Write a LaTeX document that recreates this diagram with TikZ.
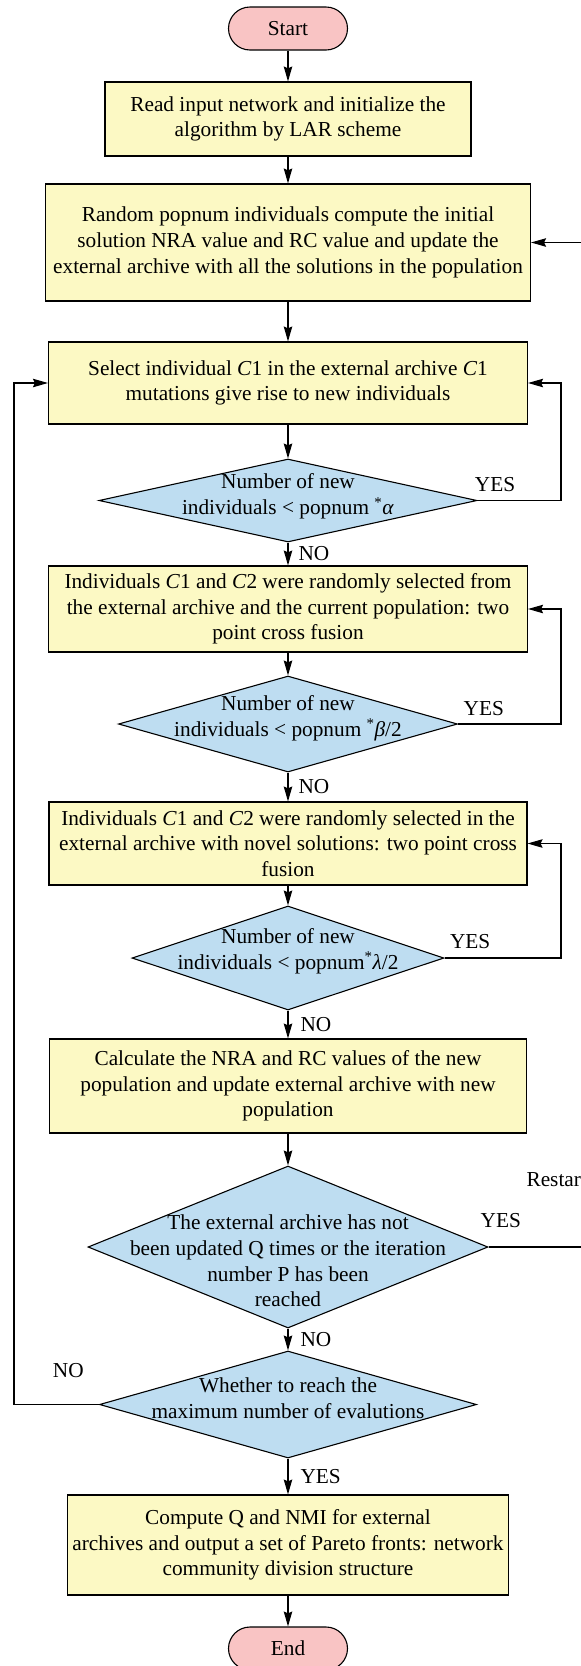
\documentclass[tikz,border=0pt]{standalone}
\usepackage{fontspec}
\setmainfont{Liberation Serif}
\usetikzlibrary{arrows.meta,shapes.geometric}

\definecolor{termfill}{RGB}{249,196,196}
\definecolor{procfill}{RGB}{252,249,196}
\definecolor{decfill}{RGB}{190,221,241}

\begin{document}
\begin{tikzpicture}[x=1pt, y=-1pt, line width=1.1pt,
  font=\fontsize{21.3}{25.7}\selectfont,
  term/.style={draw, fill=termfill, rounded corners=21.5pt, minimum width=119pt, minimum height=43pt, inner sep=0pt},
  proc/.style={draw, fill=procfill, align=center, inner sep=0pt},
  decision/.style={draw, fill=decfill, diamond, inner sep=0pt},
  arr/.style={-{Stealth[length=15pt,width=8.5pt,inset=2pt]}},
  lbl/.style={inner sep=2pt}]
			\useasboundingbox (0,0) rectangle (581,1666);
			\coordinate (rside) at (561,0);
			\coordinate (lside) at (14,0);
			\coordinate (far) at (600,0);

			\node[term] (start) at (288,28.5) {Start};
			\node[proc, minimum width=366pt, minimum height=74pt] (read) at (288,119) {Read input network and initialize the\\algorithm by LAR scheme};
			\node[proc, minimum width=485pt, minimum height=117pt] (init) at (288,242.5) {Random popnum individuals compute the initial\\solution NRA value and RC value and update the\\external archive with all the solutions in the population};
			\node[proc, minimum width=479pt, minimum height=82pt] (mutate) at (288,383) {Select individual \textit{C}1 in the external archive \textit{C}1\\mutations give rise to new individuals};
			\node[decision, minimum width=378pt, minimum height=83pt,
			  label={[align=center, yshift=4pt]center:Number of new\\individuals < popnum \textsuperscript{*}\textit{α}}] (dalpha) at (288,500.5) {};
			\node[proc, minimum width=479pt, minimum height=86pt] (cross1) at (288,609) {Individuals \textit{C}1 and \textit{C}2 were randomly selected from\\the external archive and the current population: two\\point cross fusion};
			\node[decision, minimum width=339pt, minimum height=96pt,
			  label={[align=center, yshift=6pt]center:Number of new\\individuals < popnum \textsuperscript{*}\textit{β}/2}] (dbeta) at (288,724) {};
			\node[proc, minimum width=478pt, minimum height=83pt] (cross2) at (288,843.5) {Individuals \textit{C}1 and \textit{C}2 were randomly selected in the\\external archive with novel solutions: two point cross\\fusion};
			\node[decision, minimum width=312pt, minimum height=104pt,
			  label={[align=center, yshift=7pt]center:Number of new\\individuals < popnum\textsuperscript{*}\textit{λ}/2}] (dlambda) at (288,958) {};
			\node[proc, minimum width=477pt, minimum height=94pt] (update) at (288,1086) {Calculate the NRA and RC values of the new\\population and update external archive with new\\population};
			\node[decision, minimum width=400pt, minimum height=162pt,
			  label={[align=center, yshift=-14pt]center:The external archive has not\\been updated Q times or the iteration\\number P has been\\reached}] (dstop) at (288,1247) {};
			\node[decision, minimum width=377pt, minimum height=107pt,
			  label={[align=center, yshift=6pt]center:Whether to reach the\\maximum number of evalutions}] (deval) at (288,1404.5) {};
			\node[proc, minimum width=441pt, minimum height=100pt] (output) at (288,1545) {Compute Q and NMI for external\\archives and output a set of Pareto fronts: network\\community division structure};
			\node[term] (end) at (288,1648.5) {End};

			\draw[arr] (start) -- (read);
			\draw[arr] (read) -- (init);
			\draw[arr] (init) -- (mutate);
			\draw[arr] (mutate) -- (dalpha);
			\draw[arr] (dalpha) -- node[lbl, right=8pt] {NO} (cross1);
			\draw[arr] (cross1) -- (dbeta);
			\draw[arr] (dbeta) -- node[lbl, right=8pt] {NO} (cross2);
			\draw[arr] (cross2) -- (dlambda);
			\draw[arr] (dlambda) -- node[lbl, right=10pt] {NO} (update);
			\draw[arr] (update) -- (dstop);
			\draw[arr] (dstop) -- node[lbl, right=10pt] {NO} (deval);
			\draw[arr] (deval) -- node[lbl, right=10pt] {YES} (output);
			\draw[arr] (output) -- (end);

			\draw[arr] (dalpha.east) -- node[lbl, above=6pt, pos=.21] {YES} (dalpha.east -| rside) |- (mutate.east);
			\draw[arr] (dbeta.east) -- node[lbl, above=6pt, pos=.25] {YES} (dbeta.east -| rside) |- (cross1.east);
			\draw[arr] (dlambda.east) -- node[lbl, above=7pt, pos=.22] {YES} (dlambda.east -| rside) |- (cross2.east);
			\draw[arr] (dstop.east) -- node[lbl, above=17pt, pos=.11] {YES} (dstop.east -| far) |- (init.east);
			\node[lbl, anchor=west] (restart) at (524,1180) {Restart};
			\draw[arr] (deval.west) -- node[lbl, above=24pt, pos=.36] {NO} (deval.west -| lside) |- (mutate.west);
\end{tikzpicture}
\end{document}
